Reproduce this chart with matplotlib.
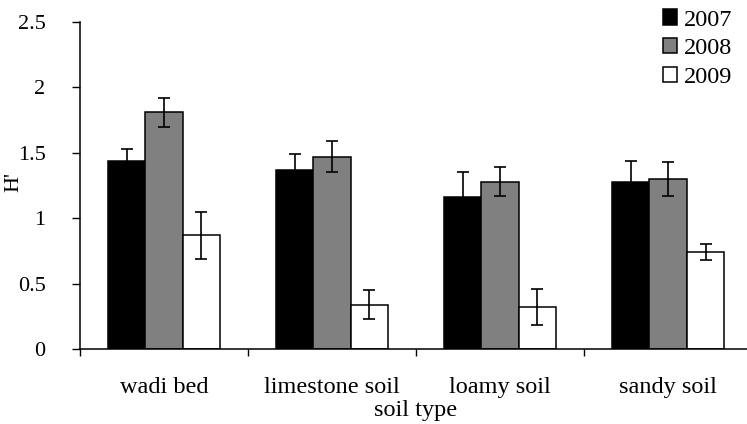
import matplotlib
matplotlib.use('Agg')
import matplotlib.pyplot as plt
import numpy as np

plt.rcParams['font.family'] = ['Liberation Serif', 'DejaVu Serif']

SOILS = ['wadi bed', 'limestone soil', 'loamy soil', 'sandy soil']
YEARS = ['2007', '2008', '2009']
H_2007 = [1.44, 1.37, 1.16, 1.28]
H_2008 = [1.81, 1.47, 1.28, 1.30]
H_2009 = [0.87, 0.34, 0.32, 0.74]
ERR_2007 = [0.09, 0.12, 0.19, 0.16]
ERR_2008 = [0.11, 0.12, 0.11, 0.13]
ERR_2009 = [0.18, 0.11, 0.135, 0.06]
COLORS = ['black', '#808080', 'white']

fig = plt.figure(figsize=(7.47, 4.24), dpi=100)
ax = fig.add_axes([80 / 747, 75 / 424, 667 / 747, 327 / 424])

x = np.arange(len(SOILS))
w = 0.223
for i, (vals, errs, c, lab) in enumerate(zip([H_2007, H_2008, H_2009],
                                             [ERR_2007, ERR_2008, ERR_2009],
                                             COLORS, YEARS)):
    ax.bar(x + (i - 1) * w, vals, w, color=c, edgecolor='black', lw=1.1,
           yerr=errs, capsize=4.5, error_kw=dict(elinewidth=1.2, capthick=1.2, ecolor='black'),
           label=lab)

ax.set_xlim(-0.5, 3.47)
ax.set_ylim(0, 2.5)
ax.set_yticks([0, 0.5, 1, 1.5, 2, 2.5])
ax.set_yticklabels(['0', '0.5', '1', '1.5', '2', '2.5'])
ax.set_xticks(x)
ax.set_xticklabels(SOILS)
ax.set_xticks([-0.5, 0.5, 1.5, 2.5], minor=True)
ax.tick_params(axis='x', which='major', length=0, pad=20, labelsize=17.5)
ax.tick_params(axis='x', which='minor', length=5, direction='out', width=1)
ax.tick_params(axis='y', length=5.8, direction='out', width=1, labelsize=16, pad=19)
for s in ['top', 'right']:
    ax.spines[s].set_visible(False)
for s in ['left', 'bottom']:
    ax.spines[s].set_linewidth(1.1)

ax.set_xlabel('soil type', fontsize=17.5, va='center')
ax.xaxis.set_label_coords((416 - 80) / 667, -0.188)
ax.set_ylabel("H'", fontsize=16, va='center')
ax.yaxis.set_label_coords(-0.099, 0.51)

ax.legend(loc='upper left', bbox_to_anchor=(647 / 747, 1.015), bbox_transform=fig.transFigure,
          frameon=False, fontsize=17.5, handlelength=0.6, handleheight=0.6,
          handletextpad=0.25, labelspacing=0.3, borderpad=0.15)

fig.savefig('out.png', dpi=100)
